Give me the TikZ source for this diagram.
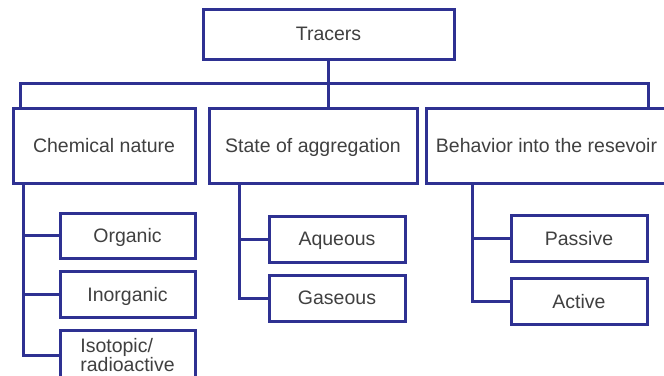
\documentclass[tikz,border=0pt]{standalone}
\usepackage{fontspec}
\setmainfont{Liberation Sans}
\usepackage{xcolor}
\usetikzlibrary{positioning}

\definecolor{linkblue}{RGB}{46,49,146}
\definecolor{labelgray}{RGB}{64,64,64}

\tikzset{
    box/.style={draw=linkblue, line width=3pt, rectangle, inner sep=0pt,
        text=labelgray, text depth=0pt, font=\fontsize{19.5}{20}\selectfont},
    link/.style={draw=linkblue, line width=3pt}
}

\begin{document}
\begin{tikzpicture}[x=1pt, y=-1pt]
                \clip (0, 0) rectangle (664, 375);
                \fill[white] (0, 0) rectangle (664, 375);

                \node[box, minimum width=251pt, minimum height=50pt] (tracers) at (328.5, 34) {Tracers};
                \node[box, minimum width=182pt, minimum height=75pt] (chem) at (104, 145.5) {Chemical nature};
                \node[box, minimum width=208pt, minimum height=75pt] (state) at (313, 145.5) {State of aggregation};
                \node[box, minimum width=241pt, minimum height=75pt] (behav) at (546.5, 145.5) {Behavior into the resevoir};

                \node[box, minimum width=135pt, minimum height=45pt] (organic) at (127.5, 235.5) {Organic};
                \node[box, minimum width=135pt, minimum height=46pt] (inorganic) at (127.5, 294) {Inorganic};
                \node[box, minimum width=135pt, minimum height=50pt, align=left, text depth=] (isotopic) at (127.5, 355) {Isotopic/\\[-1pt]radioactive};

                \node[box, minimum width=136pt, minimum height=46pt] (aqueous) at (337, 239) {Aqueous};
                \node[box, minimum width=136pt, minimum height=46pt] (gaseous) at (337, 298) {Gaseous};

                \node[box, minimum width=136pt, minimum height=46pt] (passive) at (579, 238) {Passive};
                \node[box, minimum width=136pt, minimum height=46pt] (active) at (579, 301) {Active};

                % bus under the top box
                \coordinate (busL) at (20, 83);
                \coordinate (busR) at (648, 83);
                \draw[link] (tracers.south) -- (tracers.south |- state.north);
                \draw[link] (busL |- chem.north) -- (busL) -- (busR) -- (busR |- behav.north);

                % branches of the left column
                \coordinate (chemtrunk) at (23, 183);
                \draw[link] (chemtrunk) |- (organic.west);
                \draw[link] (chemtrunk) |- (inorganic.west);
                \draw[link] (chemtrunk) |- (isotopic.west);

                % branches of the middle column
                \coordinate (statetrunk) at (239, 183);
                \draw[link] (statetrunk) |- (aqueous.west);
                \draw[link] (statetrunk) |- (gaseous.west);

                % branches of the right column
                \coordinate (behavtrunk) at (472, 183);
                \draw[link] (behavtrunk) |- (passive.west);
                \draw[link] (behavtrunk) |- (active.west);
            \end{tikzpicture}
\end{document}
